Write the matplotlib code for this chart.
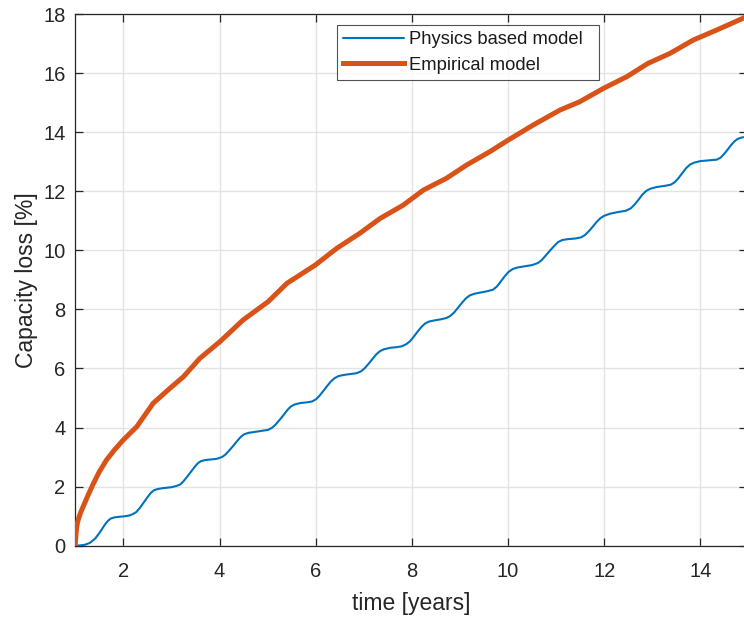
import matplotlib
matplotlib.use("Agg")
import matplotlib.pyplot as plt

plt.rcParams['font.family'] = ['Liberation Sans', 'DejaVu Sans']

# Physics based model (time in years, capacity loss in %)
physics_t = [1.00, 1.10, 1.20, 1.31, 1.42, 1.52, 1.62, 1.68, 1.74, 1.82, 1.92, 2.00,
             2.12, 2.20, 2.27, 2.34, 2.42, 2.52, 2.58, 2.64, 2.72, 2.83, 3.00, 3.10,
             3.18, 3.25, 3.32, 3.39, 3.49, 3.55, 3.61, 3.70, 3.82, 3.94, 4.05, 4.12,
             4.20, 4.28, 4.36, 4.44, 4.51, 4.60, 4.72, 4.85, 5.01, 5.09, 5.16, 5.25,
             5.33, 5.41, 5.48, 5.56, 5.68, 5.80, 5.92, 6.00, 6.07, 6.15, 6.23, 6.31,
             6.39, 6.47, 6.58, 6.72, 6.85, 6.94, 7.02, 7.10, 7.18, 7.26, 7.34, 7.42,
             7.55, 7.68, 7.79, 7.88, 7.96, 8.04, 8.12, 8.20, 8.28, 8.36, 8.48, 8.62,
             8.72, 8.80, 8.88, 8.96, 9.04, 9.12, 9.20, 9.30, 9.45, 9.58, 9.69, 9.77,
             9.85, 9.93, 10.01, 10.10, 10.20, 10.35, 10.50, 10.62, 10.70, 10.78, 10.87,
             10.96, 11.04, 11.13, 11.25, 11.40, 11.52, 11.60, 11.68, 11.76, 11.84,
             11.92, 12.00, 12.12, 12.30, 12.45, 12.55, 12.63, 12.71, 12.79, 12.87,
             12.95, 13.08, 13.25, 13.38, 13.46, 13.54, 13.62, 13.70, 13.78, 13.87,
             14.00, 14.20, 14.34, 14.42, 14.49, 14.56, 14.63, 14.70, 14.77, 14.84, 14.89]
physics_loss = [0.00, 0.01, 0.03, 0.10, 0.25, 0.47, 0.72, 0.84, 0.92, 0.96, 0.98, 0.99,
                1.02, 1.07, 1.14, 1.27, 1.45, 1.68, 1.80, 1.88, 1.92, 1.95, 1.98, 2.02,
                2.07, 2.18, 2.32, 2.47, 2.68, 2.79, 2.86, 2.90, 2.92, 2.94, 3.00, 3.08,
                3.22, 3.37, 3.53, 3.68, 3.77, 3.82, 3.85, 3.88, 3.92, 3.99, 4.09, 4.26,
                4.42, 4.59, 4.71, 4.78, 4.83, 4.85, 4.88, 4.95, 5.06, 5.22, 5.39, 5.55,
                5.67, 5.74, 5.78, 5.81, 5.84, 5.90, 6.01, 6.16, 6.32, 6.48, 6.59, 6.65,
                6.70, 6.72, 6.75, 6.82, 6.92, 7.08, 7.25, 7.41, 7.53, 7.59, 7.63, 7.67,
                7.71, 7.78, 7.90, 8.06, 8.22, 8.37, 8.47, 8.53, 8.58, 8.62, 8.67, 8.78,
                8.95, 9.12, 9.27, 9.37, 9.42, 9.46, 9.50, 9.57, 9.67, 9.82, 9.99,
                10.15, 10.28, 10.35, 10.38, 10.40, 10.44, 10.52, 10.65, 10.80, 10.96,
                11.09, 11.17, 11.24, 11.30, 11.34, 11.42, 11.55, 11.71, 11.88, 12.01,
                12.08, 12.14, 12.18, 12.22, 12.30, 12.44, 12.61, 12.78, 12.90, 12.97,
                13.02, 13.05, 13.07, 13.14, 13.26, 13.40, 13.55, 13.68, 13.77, 13.81, 13.83]

# Empirical model
empirical_t = [1.00, 1.005, 1.01, 1.02, 1.03, 1.05, 1.08, 1.12, 1.17, 1.27, 1.38, 1.50,
               1.65, 1.82, 2.00, 2.28, 2.62, 2.97, 3.25, 3.59, 4.01, 4.49, 5.01, 5.40,
               5.99, 6.44, 6.92, 7.34, 7.82, 8.24, 8.72, 9.14, 9.62, 10.00, 10.52, 11.08,
               11.49, 11.98, 12.47, 12.91, 13.37, 13.85, 14.34, 14.89]
empirical_loss = [0.00, 0.15, 0.25, 0.45, 0.62, 0.80, 0.97, 1.15, 1.34, 1.72, 2.11, 2.50,
                  2.90, 3.25, 3.58, 4.03, 4.82, 5.33, 5.72, 6.34, 6.91, 7.64, 8.26, 8.88,
                  9.50, 10.07, 10.58, 11.08, 11.53, 12.04, 12.44, 12.89, 13.34, 13.73, 14.24,
                  14.75, 15.03, 15.48, 15.88, 16.33, 16.67, 17.12, 17.46, 17.86]

x_ticks = [2, 4, 6, 8, 10, 12, 14]
y_ticks = [0, 2, 4, 6, 8, 10, 12, 14, 16, 18]

W, H = 744, 619
left_px, right_px, top_px, bottom_px = 75.2, 746.5, 14.0, 545.7
fig = plt.figure(figsize=(W / 100, H / 100), dpi=100)
ax = fig.add_axes([left_px / W, 1 - bottom_px / H,
                   (right_px - left_px) / W, (bottom_px - top_px) / H])

blue = '#0072BD'
orange = '#D95319'
axcol = '#262626'

ax.plot(physics_t, physics_loss, color=blue, lw=1.5, label='Physics based model',
        solid_joinstyle='round', solid_capstyle='round', zorder=3)
ax.plot(empirical_t, empirical_loss, color=orange, lw=3.6, label='Empirical model',
        solid_joinstyle='round', zorder=3)

ax.set_xlim(1, 1 + (right_px - left_px) / 48.1)
ax.set_ylim(0, 18)
ax.set_xticks(x_ticks)
ax.set_yticks(y_ticks)

ax.grid(True, color='#e3e3e3', lw=1.0, zorder=0)
ax.set_axisbelow(True)
for s in ax.spines.values():
    s.set_color(axcol)
    s.set_linewidth(0.9)

ax.tick_params(direction='in', length=6, width=0.9, colors=axcol,
               labelsize=14.5, top=True, right=True)
ax.tick_params(axis='x', pad=12)
ax.tick_params(axis='y', pad=7)

ax.set_xlabel('time [years]', fontsize=16.5, color=axcol, labelpad=8)
ax.set_ylabel('Capacity loss [%]', fontsize=16.5, color=axcol, labelpad=4)

ax_w = right_px - left_px
ax_h = bottom_px - top_px
leg_x0 = (336.7 - left_px) / ax_w
leg_w = (599.0 - 336.7) / ax_w
leg_top = (bottom_px - 24.7) / ax_h
leg = ax.legend(loc='upper left', bbox_to_anchor=(leg_x0, leg_top - 0.1, leg_w, 0.1),
                mode='expand', borderaxespad=0,
                fontsize=13.2, frameon=True, fancybox=False, handlelength=3.33,
                handletextpad=0.27, borderpad=0.35, labelspacing=0.47)
leg.get_frame().set_edgecolor(axcol)
leg.get_frame().set_linewidth(0.8)
for t in leg.get_texts():
    t.set_color('#1a1a1a')

fig.savefig('out.png', dpi=100)
